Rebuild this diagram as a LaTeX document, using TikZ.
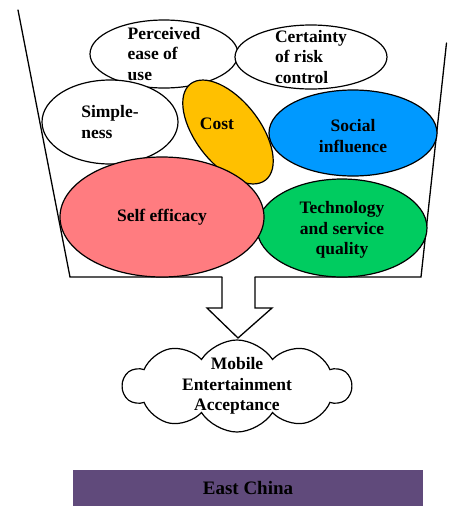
\documentclass[tikz,border=0pt]{standalone}
\usepackage{fontspec}
\setmainfont{Liberation Serif}
\usetikzlibrary{shapes.geometric,shapes.symbols}
\definecolor{costyellow}{RGB}{255,192,0}
\definecolor{socialblue}{RGB}{0,153,255}
\definecolor{selfpink}{RGB}{255,124,128}
\definecolor{techgreen}{RGB}{0,204,96}
\definecolor{regionpurple}{RGB}{96,74,123}
\newcommand\factorfont{\fontsize{17.5}{20.5}\selectfont\bfseries}
\tikzset{
  % one factor inside the bucket
  factor/.style={ellipse,draw=black,line width=1.2pt,fill=white,inner sep=0pt},
  factortext/.style={font=\factorfont,align=#1,inner sep=0pt},
  factortext/.default=center,
  bucket/.style={line width=1.3pt,line cap=round},
}

\begin{document}
\begin{tikzpicture}[x=1pt,y=-1pt]
\useasboundingbox (0,0) rectangle (448,507);
% the bucket
\coordinate (TL) at (18,10);
\coordinate (BL) at (70,277);
\coordinate (TR) at (446.5,43);
\coordinate (BR) at (421,277);
\coordinate (SL) at (222,277);
\coordinate (SR) at (255,277);
\draw[bucket] (TL)--(BL)--(SL);
\draw[bucket] (TR)--(BR)--(SR);
% factors
\node[factor,minimum width=148,minimum height=68] (ease) at (164,54) {};
\node[factortext=left] at (ease) {Perceived\\ease of\\use};
\node[factor,minimum width=152,minimum height=64] (risk) at (311,57) {};
\node[factortext=left] at (risk) {Certainty\\of risk\\control};
\node[factor,minimum width=136,minimum height=84] (simple) at (110,122) {};
\node[factortext=left] at (simple) {Simple-\\ness};
\node[factor,fill=costyellow,minimum width=122,minimum height=64,rotate=-52] (cost) at (228,132) {};
\node[factortext] at ([xshift=-11pt,yshift=8pt]cost.center) {Cost};
\node[factor,fill=socialblue,minimum width=168,minimum height=86] (social) at (353,133) {};
\node[factortext] at ([yshift=-3pt]social.center) {Social\\influence};
\node[factor,fill=techgreen,minimum width=170,minimum height=98] (tech) at (342,228) {};
\node[factortext] at ([yshift=-2pt]tech.center) {Technology\\and service\\quality};
\node[factor,fill=selfpink,minimum width=204,minimum height=120] (self) at (162,217) {};
\node[factortext] at (self) {Self efficacy};
% arrow out of the bucket
\coordinate (HL) at (207,308);
\coordinate (HR) at (272,308);
\coordinate (tip) at (238,338);
\draw[bucket,line cap=butt,line join=miter] (SL)--(SL|-HL)--(HL)--(tip)--(HR)--(SR|-HR)--(SR);
% outcome
\node[cloud,draw=black,line width=1.2pt,cloud puffs=10,cloud puff arc=115,aspect=2.4,
  minimum width=228,minimum height=92,inner sep=0pt] (accept) at (237,386) {};
\node[factortext] at (accept) {Mobile\\Entertainment\\Acceptance};
% region bar
\node[fill=regionpurple,minimum width=350,minimum height=36,inner sep=0pt,
  font=\fontsize{19}{22}\selectfont\bfseries] (region) at (248,488) {East China};
\end{tikzpicture}
\end{document}
